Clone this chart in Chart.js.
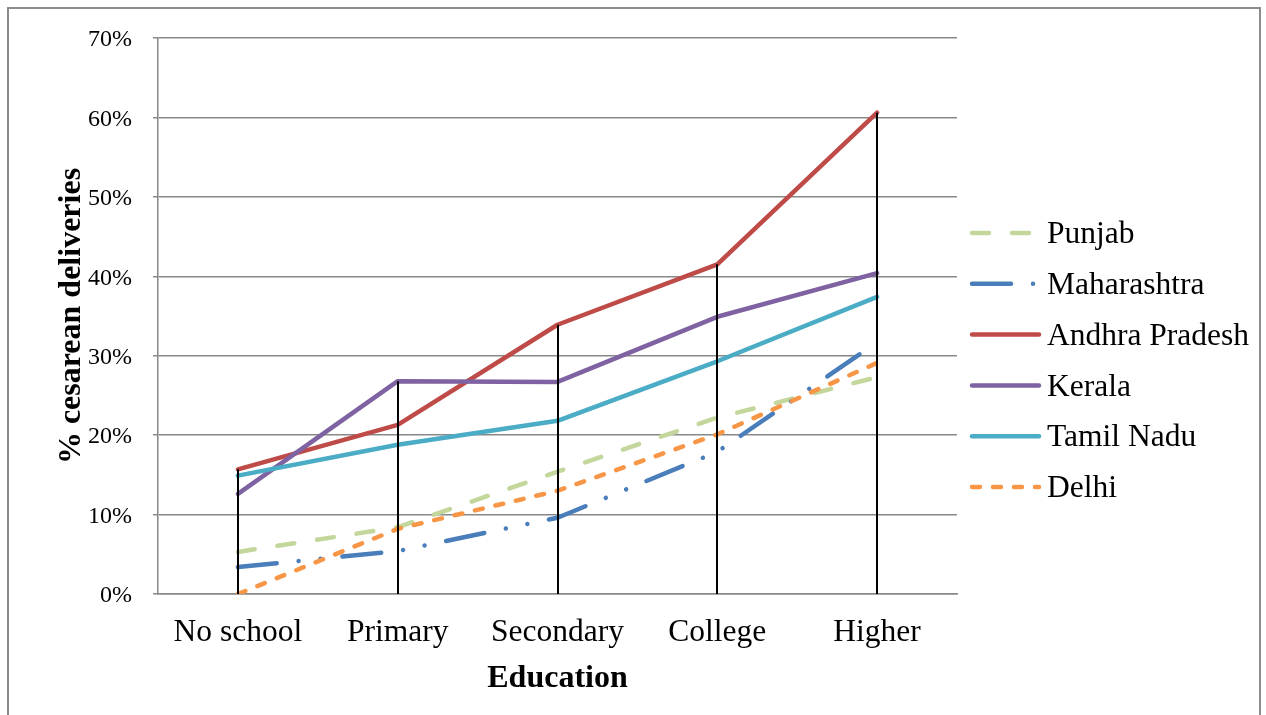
<!DOCTYPE html>
<html>
<head>
<meta charset="utf-8">
<script src="https://cdn.jsdelivr.net/npm/chart.js@4.4.1/dist/chart.umd.min.js"></script>
<style>
  html, body { margin: 0; padding: 0; background: #ffffff; }
  canvas { display: block; }
</style>
</head>
<body>
<canvas id="chart" width="1266" height="715"></canvas>
<script>
// Caesarean delivery rates (%) by mother's education level
const educationLevels = ['No school', 'Primary', 'Secondary', 'College', 'Higher'];
const punjab         = [5.3, 8.4, 15.4, 22.2, 27.3];
const maharashtra    = [3.4, 5.4, 9.6, 17.9, 31.7];
const andhraPradesh  = [15.7, 21.3, 33.9, 41.5, 60.6];
const kerala         = [12.6, 26.8, 26.7, 34.9, 40.4];
const tamilNadu      = [14.9, 18.8, 21.8, 29.3, 37.4];
const delhi          = [0.0, 8.2, 13.0, 20.1, 29.1];
const stateNames     = ['Punjab', 'Maharashtra', 'Andhra Pradesh', 'Kerala', 'Tamil Nadu', 'Delhi'];
const yTickValues    = [0, 10, 20, 30, 40, 50, 60, 70];

const seriesValues = [punjab, maharashtra, andhraPradesh, kerala, tamilNadu, delhi];
const seriesColors = ['#C3D69B', '#4A7EBB', '#BE4B48', '#7E62A1', '#4BACC6', '#F79646'];
const seriesDashes = [
  [17, 23],                       // long dash
  [39, 22, 0.01, 22, 0.01, 22],   // dash-dot-dot
  [], [], [],
  [8, 13]                         // short dash
];

const serif = '"Liberation Serif", "Times New Roman", serif';
const gridGrey = '#888888';

// Vertical drop lines from the highest value at each level down to the axis
const dropLines = {
  id: 'dropLines',
  afterDatasetsDraw(chart) {
    const { ctx, scales: { x, y } } = chart;
    ctx.save();
    ctx.strokeStyle = '#000000';
    ctx.lineWidth = 2;
    educationLevels.forEach((_, i) => {
      const top = Math.max(...seriesValues.map(s => s[i]));
      const px = Math.round(x.getPixelForValue(i));
      ctx.beginPath();
      ctx.moveTo(px, y.getPixelForValue(top));
      ctx.lineTo(px, y.getPixelForValue(0));
      ctx.stroke();
    });
    ctx.restore();
  }
};

// Legend to the right of the plot, one row per state
const sideLegend = {
  id: 'sideLegend',
  afterDraw(chart) {
    const { ctx, chartArea } = chart;
    const x0 = chartArea.right + 15;
    const rowTop = 233, rowStep = 50.8;
    ctx.save();
    stateNames.forEach((name, i) => {
      const y = rowTop + i * rowStep;
      ctx.beginPath();
      ctx.strokeStyle = seriesColors[i];
      ctx.lineWidth = 4.5;
      ctx.lineCap = 'round';
      ctx.setLineDash(seriesDashes[i]);
      ctx.moveTo(x0, y);
      ctx.lineTo(x0 + 67, y);
      ctx.stroke();
      ctx.setLineDash([]);
      ctx.fillStyle = '#000000';
      ctx.font = '31.5px ' + serif;
      ctx.textBaseline = 'middle';
      ctx.textAlign = 'left';
      ctx.fillText(name, x0 + 75, y + 2);
    });
    ctx.restore();
  }
};

// Thin grey frame around the whole chart
const outerFrame = {
  id: 'outerFrame',
  afterDraw(chart) {
    const { ctx } = chart;
    ctx.save();
    ctx.strokeStyle = '#8c8c8c';
    ctx.lineWidth = 2;
    ctx.strokeRect(8, 8, 1252, 720);
    ctx.restore();
  }
};

new Chart(document.getElementById('chart'), {
  type: 'line',
  data: {
    labels: educationLevels,
    datasets: stateNames.map((name, i) => ({
      label: name,
      data: seriesValues[i],
      borderColor: seriesColors[i],
      backgroundColor: seriesColors[i],
      borderWidth: 4.5,
      borderDash: seriesDashes[i],
      borderCapStyle: 'round',
      borderJoinStyle: 'round',
      pointRadius: 0,
      pointHoverRadius: 0,
      tension: 0,
      fill: false,
      order: stateNames.length - i
    }))
  },
  options: {
    responsive: false,
    devicePixelRatio: 1,
    animation: false,
    layout: { padding: { left: 0, top: 38, right: 309, bottom: 0 } },
    plugins: {
      legend: { display: false },
      tooltip: { enabled: false }
    },
    scales: {
      x: {
        type: 'category',
        offset: true,
        grid: { display: false, drawTicks: false },
        border: { display: true, color: gridGrey, width: 1.5 },
        ticks: {
          color: '#000000',
          font: { family: serif, size: 31.5 },
          padding: 20,
          maxRotation: 0,
          autoSkip: false
        },
        title: {
          display: true,
          text: 'Education',
          color: '#000000',
          font: { family: serif, size: 32, weight: 'bold', lineHeight: 1 },
          padding: { top: 0, bottom: 20 }
        },
        afterFit(scale) { scale.height = 121; }
      },
      y: {
        min: 0,
        max: 70,
        afterBuildTicks(scale) { scale.ticks = yTickValues.map(v => ({ value: v })); },
        ticks: {
          color: '#000000',
          font: { family: serif, size: 24 },
          padding: 21,
          labelOffset: 2,
          callback: v => v + '%'
        },
        grid: { color: gridGrey, lineWidth: 1.5, drawTicks: true, tickLength: 5 },
        border: { display: true, color: gridGrey, width: 1.5 },
        title: {
          display: true,
          text: '% cesarean deliveries',
          color: '#000000',
          font: { family: serif, size: 32, weight: 'bold', lineHeight: 1 },
          padding: { top: 56, bottom: 0 }
        },
        afterFit(scale) { scale.width = 158; }
      }
    }
  },
  plugins: [dropLines, sideLegend, outerFrame]
});
</script>
</body>
</html>
